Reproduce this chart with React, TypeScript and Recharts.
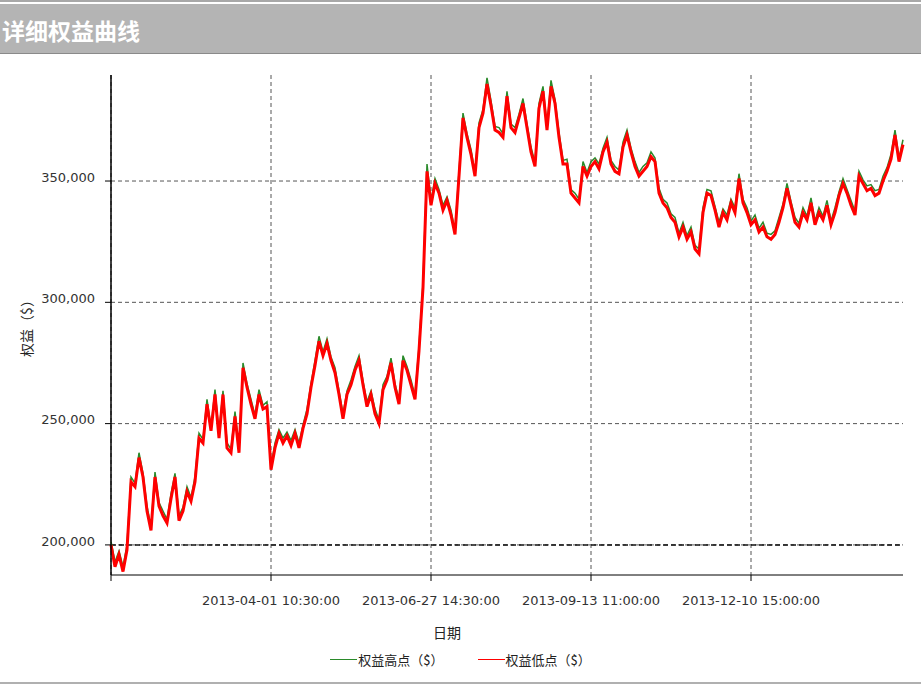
import { LineChart, Line, XAxis, YAxis, CartesianGrid, Legend, ReferenceLine, Label } from 'recharts';

// 权益高点 / 低点（单位：千美元），按时间顺序
const equityHighK = [
    201.5, 193, 197.5, 191, 200, 228, 225.5, 238, 229.5, 216,
    207.5, 230, 217.5, 214, 210.5, 221, 229.5, 212, 215.5, 224,
    219.5, 228, 246, 243.5, 260, 248.5, 264, 246, 263.5, 242,
    239.5, 255, 240, 275, 266.5, 260, 253.5, 264, 257.5, 259,
    232.5, 242, 247.5, 244, 246.5, 243, 247.5, 242, 249.5, 256,
    266.5, 276, 286, 279.5, 285, 277.5, 273, 263.5, 254, 263.5,
    268, 273.5, 278, 267.5, 259, 263.5, 256, 251.5, 266, 269.5,
    277, 266.5, 260, 278, 273.5, 268, 261.5, 282, 308, 357,
    342, 351, 346.5, 340, 343.5, 338, 329.5, 354, 378, 369.5,
    363, 353.5, 374, 379.5, 392.5, 383, 372.5, 372, 369.5, 387,
    373.5, 372, 377.5, 384, 373.5, 364, 357.5, 382, 389, 372.5,
    391.5, 383.5, 370, 358.5, 359, 346.5, 345, 342.5, 358, 353.5,
    358, 359.5, 357, 363.5, 368, 358.5, 356, 354.5, 366, 371,
    363.5, 358, 353.5, 356, 357.5, 362, 359.5, 347, 342.5, 341,
    336.5, 335, 328.5, 333, 327.5, 331, 323.5, 322, 339, 346.5,
    346, 339.5, 333, 338.5, 336, 342.5, 339, 353, 342.5, 339,
    333.5, 336, 330.5, 333, 328.5, 328, 329.5, 335, 340.5, 349,
    341.5, 335, 332.5, 339, 335.5, 343, 333.5, 339, 335.5, 342,
    333.5, 339, 345.5, 351, 346.5, 342, 337.5, 354, 350.5, 348,
    348.5, 346, 346.5, 352, 355.5, 361, 371, 359.5, 367,
];

const equityLowK = [
    200, 191, 196, 189, 198, 226, 224, 236, 228, 214,
    206, 228, 216, 212, 209, 219, 228, 210, 214, 222,
    218, 226, 244, 242, 258, 247, 262, 244, 262, 240,
    238, 253, 238, 273, 265, 258, 252, 262, 256, 257,
    231, 240, 246, 242, 245, 241, 246, 240, 248, 254,
    265, 274, 284, 278, 283, 276, 271, 262, 252, 262,
    266, 272, 276, 266, 257, 262, 254, 250, 264, 268,
    275, 265, 258, 276, 272, 266, 260, 280, 306, 354,
    340, 349, 345, 338, 342, 336, 328, 352, 376, 368,
    361, 352, 372, 378, 390, 381, 371, 370, 368, 385,
    372, 370, 376, 382, 372, 362, 356, 380, 387, 371,
    389, 382, 368, 357, 357, 345, 343, 341, 356, 352,
    356, 358, 355, 362, 366, 357, 354, 353, 364, 369,
    362, 356, 352, 354, 356, 360, 358, 345, 341, 339,
    335, 333, 327, 331, 326, 329, 322, 320, 337, 345,
    344, 338, 331, 337, 334, 341, 337, 351, 341, 337,
    332, 334, 329, 331, 327, 326, 328, 333, 339, 347,
    340, 333, 331, 337, 334, 341, 332, 337, 334, 340,
    332, 337, 344, 349, 345, 340, 336, 352, 349, 346,
    347, 344, 345, 350, 354, 359, 369, 358, 365,
];

const xTickIndex = [0, 40, 80, 120, 160];
const xTickLabels = ['', '2013-04-01 10:30:00', '2013-06-27 14:30:00', '2013-09-13 11:00:00', '2013-12-10 15:00:00'];
const yTicks = [200000, 250000, 300000, 350000];

const seriesNames = ['权益高点（$）', '权益低点（$）'];
const seriesColors = ['#2a8a2a', '#ff0000'];

const CJK = '"Noto Sans CJK SC", "Noto Sans", sans-serif';
const NUM = '"DejaVu Sans", sans-serif';

const chartData = equityLowK.map((low, i) => ({
    idx: i,
    high: equityHighK[i] * 1000,
    low: low * 1000,
}));

// 图例：固定顺序（高点在前）
function renderLegend() {
    return (
        <div style={{ display: 'flex', justifyContent: 'center', alignItems: 'center', height: 24, fontFamily: CJK, fontSize: 13, color: '#222' }}>
            {seriesNames.map((name, i) => (
                <span key={name} style={{ display: 'flex', alignItems: 'center', margin: '0 17px' }}>
                    <span style={{ display: 'inline-block', width: 27, borderTop: `1px solid ${seriesColors[i]}`, marginRight: 1 }} />
                    {name}
                </span>
            ))}
        </div>
    );
}

export default function App() {
    return (
        <div style={{ position: 'absolute', left: 0, top: 0, width: 921, height: 684, background: '#fff', overflow: 'hidden' }}>
            <div style={{ position: 'absolute', left: 0, top: 0, width: 921, height: 2, background: '#a8a8a8' }} />
            <div
                style={{
                    position: 'absolute',
                    left: 0,
                    top: 4,
                    width: 921,
                    height: 50,
                    background: '#b4b4b4',
                    borderBottom: '1px solid #8a8a8a',
                    color: '#fff',
                    fontFamily: CJK,
                    fontWeight: 'bold',
                    fontSize: 23,
                    lineHeight: '52px',
                    paddingLeft: 2,
                    boxSizing: 'border-box',
                }}
            >
                详细权益曲线
            </div>
            <div style={{ position: 'absolute', left: 0, top: 682, width: 921, height: 2, background: '#b0b0b0' }} />
            <div style={{ position: 'absolute', left: 0, top: 0 }}>
                <LineChart width={921} height={684} data={chartData} margin={{ top: 75, right: 18, left: 0, bottom: 13 }}>
                    <CartesianGrid
                        strokeDasharray="4 3"
                        stroke="#555"
                        strokeWidth={1}
                        horizontalValues={yTicks}
                        verticalValues={xTickIndex}
                    />
                    <XAxis
                        dataKey="idx"
                        type="number"
                        domain={[0, equityLowK.length - 1]}
                        ticks={xTickIndex}
                        tickFormatter={(v: number) => xTickLabels[xTickIndex.indexOf(v)] ?? ''}
                        height={72}
                        axisLine={{ stroke: '#000' }}
                        tickLine={{ stroke: '#000' }}
                        tickSize={6}
                        tickMargin={15}
                        tick={{ fill: '#333', fontSize: 13, fontFamily: NUM }}
                        interval={0}
                    >
                        <Label
                            content={({ viewBox }: any) => (
                                <text
                                    x={viewBox.x + viewBox.width / 2 - 60}
                                    y={viewBox.y + 57}
                                    textAnchor="middle"
                                    dominantBaseline="central"
                                    fontFamily={CJK}
                                    fontSize={14}
                                    fill="#222"
                                >
                                    日期
                                </text>
                            )}
                        />
                    </XAxis>
                    <YAxis
                        width={111}
                        domain={[187600, 393700]}
                        ticks={yTicks}
                        tickFormatter={(v: number) => v.toLocaleString('en-US')}
                        axisLine={{ stroke: '#000', strokeWidth: 1.5 }}
                        tickLine={{ stroke: '#000' }}
                        tickSize={6}
                        tickMargin={10}
                        tick={{ fill: '#333', fontSize: 13, fontFamily: NUM, dy: -4 }}
                        allowDataOverflow
                    >
                        <Label
                            content={({ viewBox }: any) => {
                                const cx = viewBox.x + 26;
                                const cy = viewBox.y + viewBox.height / 2;
                                return (
                                    <text
                                        x={cx}
                                        y={cy}
                                        transform={`rotate(-90, ${cx}, ${cy})`}
                                        textAnchor="middle"
                                        dominantBaseline="central"
                                        fontFamily={CJK}
                                        fontSize={14}
                                        fill="#222"
                                    >
                                        权益（$）
                                    </text>
                                );
                            }}
                        />
                    </YAxis>
                    <ReferenceLine y={200000} stroke="#111" strokeDasharray="5 3" strokeWidth={1.5} />
                    <Legend
                        verticalAlign="bottom"
                        content={renderLegend}
                        wrapperStyle={{ left: 0, width: 921, height: 24 }}
                    />
                    <Line
                        type="linear"
                        dataKey="high"
                        name={seriesNames[0]}
                        stroke={seriesColors[0]}
                        strokeWidth={1.5}
                        dot={false}
                        isAnimationActive={false}
                    />
                    <Line
                        type="linear"
                        dataKey="low"
                        name={seriesNames[1]}
                        stroke={seriesColors[1]}
                        strokeWidth={3}
                        dot={false}
                        isAnimationActive={false}
                    />
                </LineChart>
            </div>
        </div>
    );
}
